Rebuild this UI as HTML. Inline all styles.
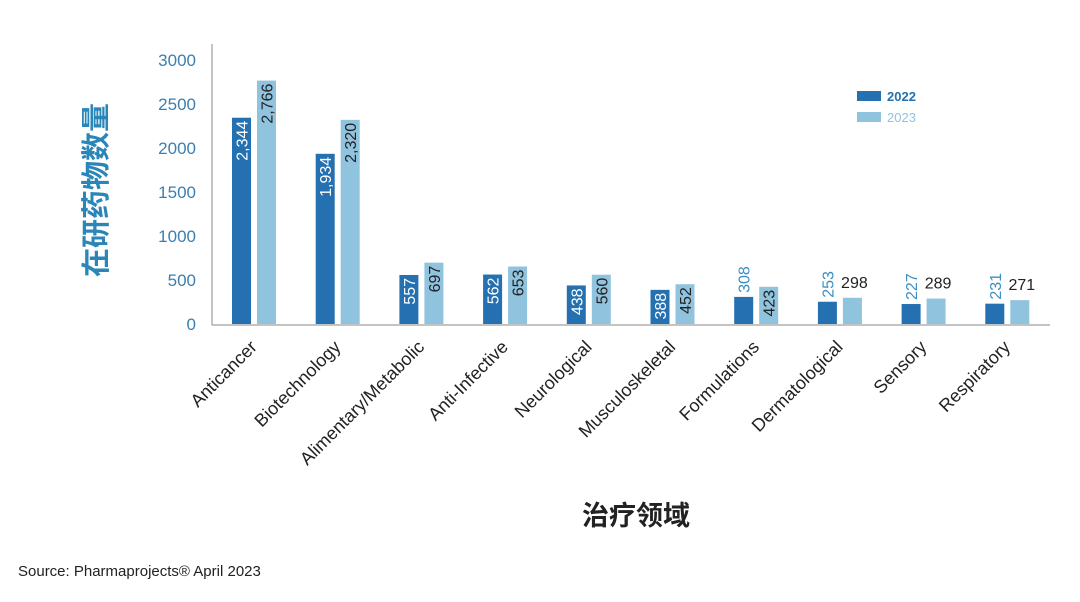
<!DOCTYPE html>
<html><head><meta charset="utf-8">
<style>
html,body{margin:0;padding:0;background:#fff;}
svg{display:block;font-family:"Liberation Sans","Noto Sans CJK SC",sans-serif;}
</style></head>
<body>
<svg id="chart" width="1080" height="602" viewBox="0 0 1080 602">
  <g id="yaxis"></g>
  <g id="bars"></g>
  <g id="xlabels"></g>
  <text x="106" y="190" transform="rotate(-90 106 190)" text-anchor="middle" font-size="29" font-weight="bold" fill="#2a86b8">在研药物数量</text>
  <text x="636" y="525" text-anchor="middle" font-size="27" font-weight="bold" fill="#222">治疗领域</text>
  <text x="18" y="576" font-size="15" fill="#222">Source: Pharmaprojects® April 2023</text>
  <g>
    <rect x="857" y="91" width="24" height="10" fill="#2470b0"></rect>
    <text x="887" y="101" font-size="13" font-weight="bold" fill="#2470b0">2022</text>
    <rect x="857" y="112" width="24" height="10" fill="#90c3de"></rect>
    <text x="887" y="122" font-size="13" fill="#90c3de">2023</text>
  </g>
</svg>
<script>
const categories = ["Anticancer","Biotechnology","Alimentary/Metabolic","Anti-Infective","Neurological","Musculoskeletal","Formulations","Dermatological","Sensory","Respiratory"];
const values2022 = [2344,1934,557,562,438,388,308,253,227,231];
const values2023 = [2766,2320,697,653,560,452,423,298,289,271];
const yTicks = [0,500,1000,1500,2000,2500,3000];

const NS="http://www.w3.org/2000/svg";
const y0=324, pxPer=88/1000;
const yScale=v=>y0-v*pxPer;
const xCenter=i=>254+83.7*i;
const bw=19, C22="#2470b0", C23="#90c3de";
function mk(tag,attrs,parent,txt){const e=document.createElementNS(NS,tag);for(const k in attrs)e.setAttribute(k,attrs[k]);if(txt!==undefined)e.textContent=txt;parent.appendChild(e);return e;}
const fmt=v=>v.toLocaleString("en-US");

const ya=document.getElementById("yaxis");
const ax=mk("line",{x1:212,y1:44,x2:212,y2:y0+1,stroke:"#888","stroke-width":1},ya);


const xl=mk("line",{x1:212,y1:y0+1,x2:1050,y2:y0+1,stroke:"#888","stroke-width":1},ya);


yTicks.forEach(t=>{
  const tx=mk("text",{x:196,y:yScale(t)+6,"text-anchor":"end","font-size":17,fill:"#3a7fb0"},ya,String(t));
  
  
});

const bg=document.getElementById("bars"), xg=document.getElementById("xlabels");
categories.forEach((c,i)=>{
  const cx=xCenter(i);
  [[values2022[i],C22,cx-bw-3,"2022"],[values2023[i],C23,cx+3,"2023"]].forEach(([v,col,x,yr])=>{
    const top=yScale(v);
    const r=mk("rect",{x:x,y:top,width:bw,height:y0-top,fill:col},bg);
    
    
    const mx=x+bw/2;
    let t;
    if(v>=380){
      const ty=top+3;
      t=mk("text",{x:mx+6,y:ty,transform:`rotate(-90 ${mx+6} ${ty})`,"text-anchor":"end","font-size":16,fill:yr==="2022"?"#fff":"#222"},bg,fmt(v));
    } else if(yr==="2022"){
      const ty=top-4;
      t=mk("text",{x:mx+6,y:ty,transform:`rotate(-90 ${mx+6} ${ty})`,"text-anchor":"start","font-size":16,fill:"#3a8fc0"},bg,fmt(v));
    } else {
      t=mk("text",{x:mx+2,y:top-10,"text-anchor":"middle","font-size":16,fill:"#222"},bg,fmt(v));
    }
    
    
  });
  const lx=cx+4, ly=348;
  const l=mk("text",{x:lx,y:ly,transform:`rotate(-45 ${lx} ${ly})`,"text-anchor":"end","font-size":18,fill:"#222"},xg,c);
  
  
});
</script>
</body></html>
